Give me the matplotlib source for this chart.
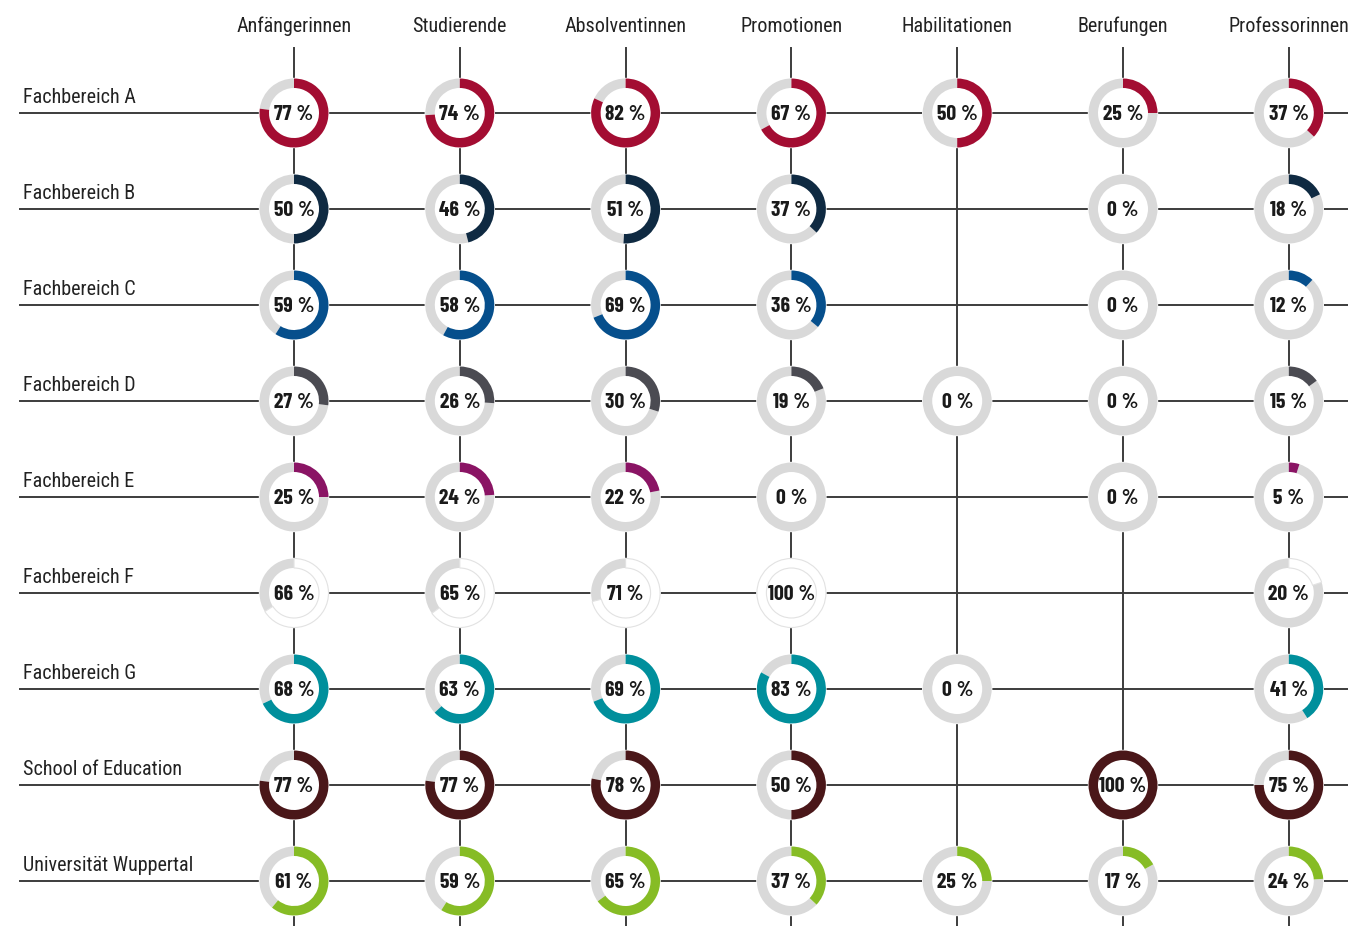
"""Frauenanteile je Fachbereich als Ringdiagramme."""

import matplotlib.pyplot as plt
from matplotlib.patches import Wedge, Circle

plt.rcParams["font.family"] = ["Roboto Condensed", "DejaVu Sans"]
pct_font = ["Barlow Condensed", "Roboto Condensed", "DejaVu Sans"]

columns = ["Anfängerinnen", "Studierende", "Absolventinnen", "Promotionen",
           "Habilitationen", "Berufungen", "Professorinnen"]
rows = ["Fachbereich A", "Fachbereich B", "Fachbereich C", "Fachbereich D",
        "Fachbereich E", "Fachbereich F", "Fachbereich G",
        "School of Education", "Universität Wuppertal"]

# share of women in percent, None = no value
fb_a = [77, 74, 82, 67, 50, 25, 37]
fb_b = [50, 46, 51, 37, None, 0, 18]
fb_c = [59, 58, 69, 36, None, 0, 12]
fb_d = [27, 26, 30, 19, 0, 0, 15]
fb_e = [25, 24, 22, 0, None, 0, 5]
fb_f = [66, 65, 71, 100, None, None, 20]
fb_g = [68, 63, 69, 83, 0, None, 41]
soe = [77, 77, 78, 50, None, 100, 75]
uni = [61, 59, 65, 37, 25, 17, 24]
values = [fb_a, fb_b, fb_c, fb_d, fb_e, fb_f, fb_g, soe, uni]

colors = ["#a30d32", "#0f2a42", "#064f8c", "#4b4b52", "#8a1464",
          "#ffffff", "#008f9c", "#4a1719", "#86bc25"]
gray = "#d9d9d9"
line_col = "#3c3c3c"

W, H = 1348, 926
fig = plt.figure(figsize=(W / 100, H / 100), dpi=100)
ax = fig.add_axes([0, 0, 1, 1])
ax.set_xlim(0, W)
ax.set_ylim(0, H)
ax.set_aspect("equal")
ax.axis("off")

col_x = [294 + 165.8 * j for j in range(len(columns))]
row_y = [H - (113 + 96 * i) for i in range(len(rows))]
r_out, ring = 34.5, 9.5

# Grid lines
for x in col_x:
    ax.plot([x, x], [0, H - 48], color=line_col, lw=1.4, zorder=1)
for y in row_y:
    ax.plot([20, W], [y, y], color=line_col, lw=1.4, zorder=1)

# Headers and row labels
for x, name in zip(col_x, columns):
    ax.text(x, H - 26, name, ha="center", va="center", fontsize=14.5, color="#222222")
for y, name in zip(row_y, rows):
    ax.text(23, y + 6, name, ha="left", va="bottom", fontsize=14.5, color="#222222")

# Donuts
for y, vals, c in zip(row_y, values, colors):
    for x, v in zip(col_x, vals):
        if v is None:
            continue
        ax.add_patch(Circle((x, y), r_out, color="white", zorder=2))
        end = 90 - 360 * v / 100
        if v < 100:
            ax.add_patch(Wedge((x, y), r_out, 90, end + 360, width=ring,
                               facecolor=gray, edgecolor="none", zorder=3))
        if v > 0:
            edge = "#e2e2e2" if c == "#ffffff" else "none"
            ax.add_patch(Wedge((x, y), r_out, end, 90, width=ring,
                               facecolor=c, edgecolor=edge, lw=0.8, zorder=4))
        ax.text(x, y - 1.5, f"{v}\u202f%", ha="center", va="center", fontsize=15.5,
                fontweight="bold", family=pct_font, color="#1a1a1a", zorder=5)

fig.savefig("out.png", dpi=100)
